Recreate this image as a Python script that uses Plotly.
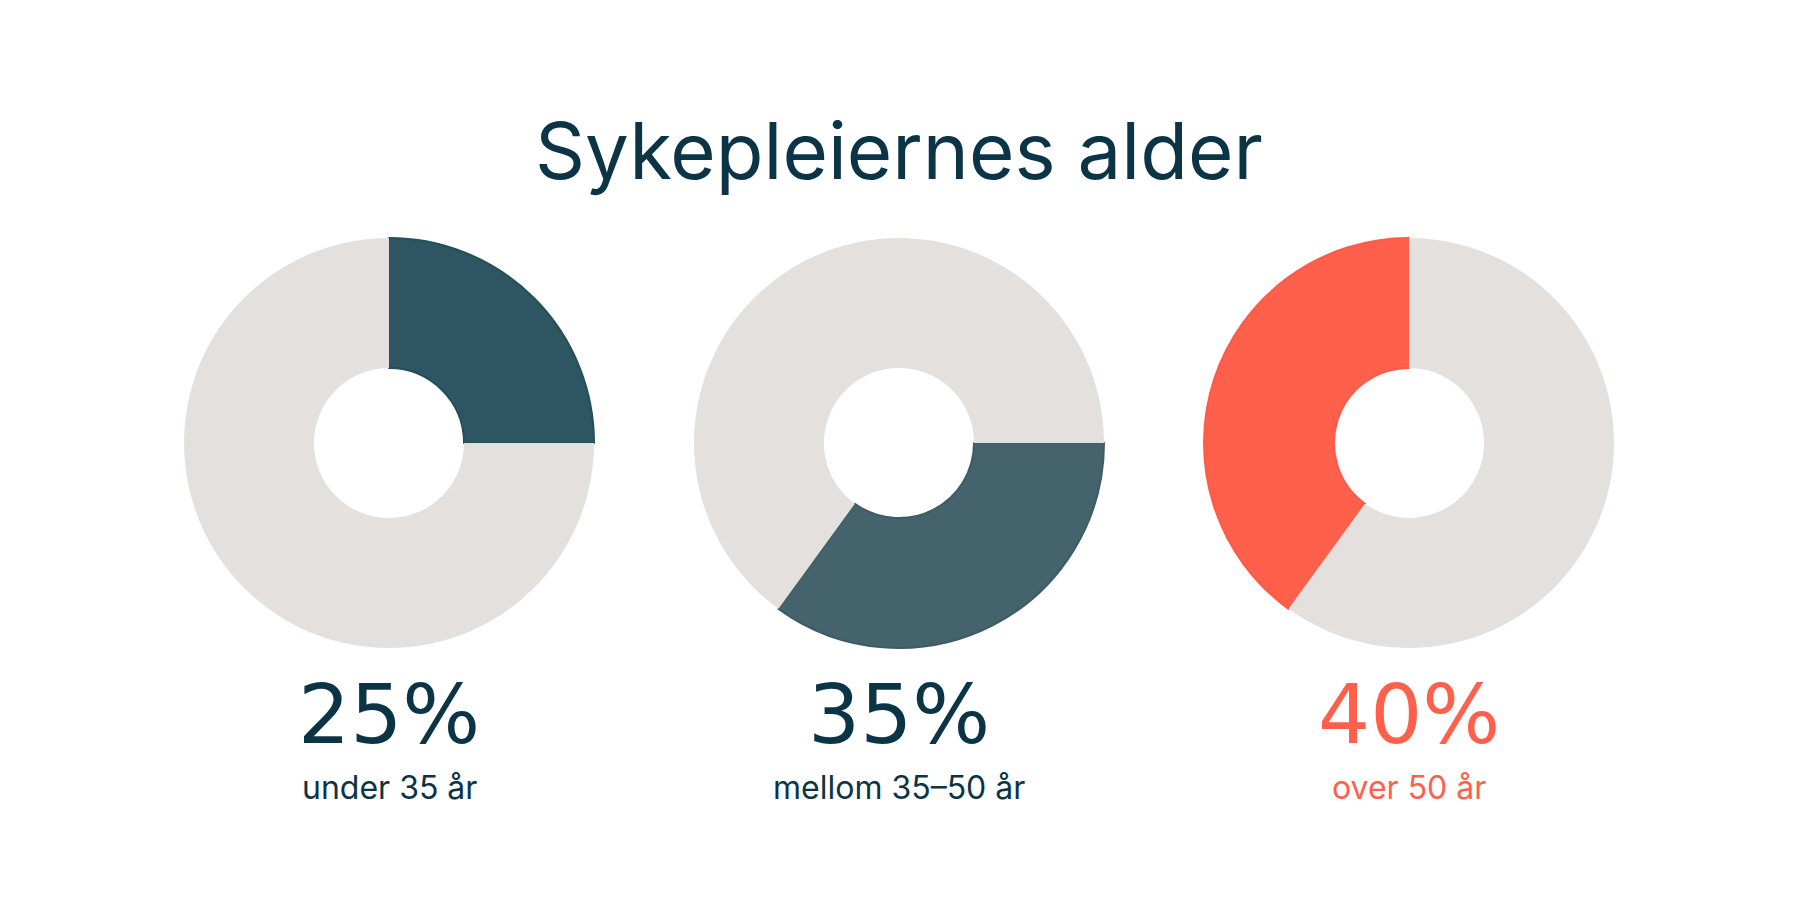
import plotly.graph_objects as go

W, H = 1798, 921

title = "Sykepleiernes alder"
groups = ["under 35 år", "mellom 35–50 år", "over 50 år"]
shares = [25, 35, 40]
labels_pct = ["25%", "35%", "40%"]
rotations = [0, 90, 216]
seg_colors = ["#2d5662", "#45636c", "#ff604c"]
seg_lines = ["#244f5b", "#3d5c66", "#ff5a46"]
text_colors = ["#0b3446", "#0b3446", "#ff604c"]
rest_color = "#e4e0dd"

OFF = 8  # page body margin
centers_x = [389 - OFF, 899 - OFF, 1409 - OFF]
center_y = 443 - OFF
radius = 205

fig = go.Figure()
for i in range(3):
    cx = centers_x[i]
    fig.add_trace(go.Pie(
        values=[shares[i], 100 - shares[i]],
        labels=[groups[i], "rest"],
        sort=False,
        direction="clockwise",
        rotation=rotations[i],
        hole=0.366,
        marker=dict(colors=[seg_colors[i], rest_color],
                    line=dict(color=[seg_lines[i], rest_color], width=[2, 0])),
        textinfo="none",
        hoverinfo="skip",
        showlegend=False,
        domain=dict(x=[(cx - radius) / W, (cx + radius) / W],
                    y=[(H - center_y - radius) / H, (H - center_y + radius) / H]),
    ))
    fig.add_annotation(x=cx / W, y=1 - (714 - OFF) / H, xref="paper", yref="paper",
                       text=labels_pct[i], showarrow=False,
                       xanchor="center", yanchor="middle",
                       font=dict(family="DejaVu Sans", size=82, color=text_colors[i]))
    fig.add_annotation(x=cx / W, y=1 - (787 - OFF) / H, xref="paper", yref="paper",
                       text=groups[i], showarrow=False,
                       xanchor="center", yanchor="middle",
                       font=dict(family="Inter", size=32, color=text_colors[i]))

fig.add_annotation(x=(899 - OFF) / W, y=1 - (150 - OFF) / H, xref="paper", yref="paper",
                   text=title, showarrow=False, xanchor="center", yanchor="middle",
                   font=dict(family="Inter", size=78, color="#0b3446"))

fig.update_layout(width=W, height=H, margin=dict(l=0, r=0, t=0, b=0),
                  paper_bgcolor="white", plot_bgcolor="white")
fig.write_html("out.html")
